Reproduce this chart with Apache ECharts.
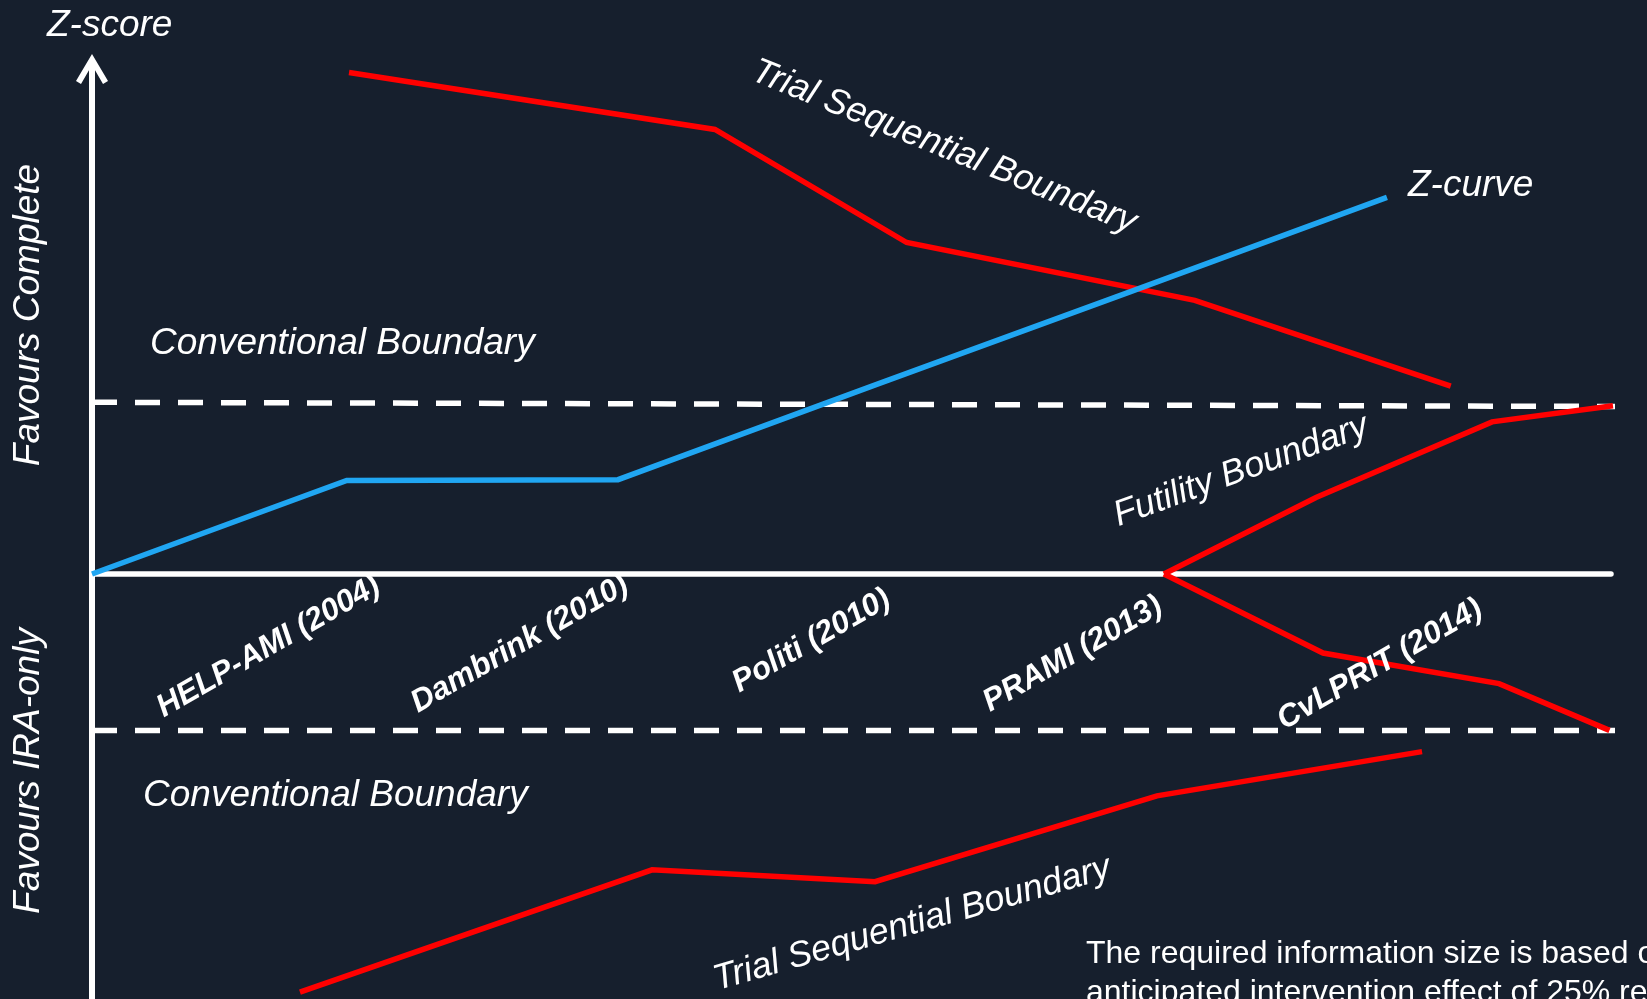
<!DOCTYPE html>
<html>
<head>
<meta charset="utf-8">
<script src="https://cdn.jsdelivr.net/npm/echarts@6/dist/echarts.min.js"></script>
<style>
  html, body { margin: 0; padding: 0; background: #161f2d; }
  #chart { width: 1647px; height: 999px; }
</style>
</head>
<body>
<div id="chart"></div>
<script>
// x: accrued information (% of required information size), y: cumulative Z-score

// Trials in order of accrual
const trialNames = ['HELP-AMI (2004)', 'Dambrink (2010)', 'Politi (2010)', 'PRAMI (2013)', 'CvLPRIT (2014)'];
const trialInfo = [16.77, 34.63, 51.48, 68.33, 85.25];

// Cumulative Z-curve, starting at the origin and stepping through each trial
const zCurveInfo = [0, 16.77, 34.63, 51.48, 68.33, 85.25];
const zCurveZ = [0, 1.10, 1.11, 2.22, 3.32, 4.43];

// Trial sequential monitoring boundary (benefit side)
const tsbUpperInfo = [16.92, 41.01, 53.63, 72.60, 89.45];
const tsbUpperZ = [5.90, 5.23, 3.90, 3.22, 2.21];

// Trial sequential monitoring boundary (harm side)
const tsbLowerInfo = [13.69, 36.87, 51.55, 70.11, 87.56];
const tsbLowerZ = [-4.92, -3.48, -3.62, -2.61, -2.09];

// Futility (inner wedge) boundaries
const futilUpperInfo = [70.57, 80.58, 92.17, 100.13];
const futilUpperZ = [0, 0.90, 1.79, 1.98];
const futilLowerInfo = [70.57, 81.04, 92.63, 99.90];
const futilLowerZ = [0, -0.93, -1.29, -1.84];

// Conventional significance boundaries
const convInfo = [0, 102.37];
const convUpperZ = [2.02, 1.97];
const convLowerZ = [-1.84, -1.84];

const pair = (xs, ys) => xs.map((x, i) => [x, ys[i]]);

const FONT = '"Liberation Sans", Arial, Helvetica, sans-serif';
const WHITE = '#ffffff';
const RED = '#ff0000';
const BLUE = '#20a6f2';

// label anchor nudges (px) for the rotated trial names
const labelNudge = [[23, -4], [0, -5], [6, 9], [22, 16], [85, 19]];

const redLine = (xs, ys) => ({
  type: 'line',
  data: pair(xs, ys),
  symbol: 'none',
  clip: false,
  z: 3,
  lineStyle: { color: RED, width: 5.5, cap: 'butt', join: 'miter' }
});

const dashedLine = (xs, ys) => ({
  type: 'line',
  data: pair(xs, ys),
  symbol: 'none',
  clip: false,
  z: 2,
  lineStyle: { color: WHITE, width: 5.5, type: [25, 18], cap: 'butt' }
});

const chart = echarts.init(document.getElementById('chart'));

const italic = (text, x, y, size, rot, align) => ({
  type: 'text',
  x: x, y: y,
  rotation: (rot || 0) * Math.PI / 180,
  z: 10,
  style: {
    text: text,
    fill: WHITE,
    fontFamily: FONT,
    fontStyle: 'italic',
    fontSize: size,
    textAlign: align || 'left',
    textVerticalAlign: 'middle'
  }
});

chart.setOption({
  backgroundColor: '#161f2d',
  animation: false,
  grid: { left: 92, top: 64, width: 1519, height: 938 },
  xAxis: {
    type: 'value', min: 0, max: 100,
    axisLine: { show: true, onZero: true, lineStyle: { color: WHITE, width: 5.5 } },
    axisTick: { show: false }, axisLabel: { show: false }, splitLine: { show: false }
  },
  yAxis: {
    type: 'value', min: -5, max: 6,
    axisLine: {
      show: true,
      symbol: ['none', 'path://M16,0 L32,27 L27,30 L16,11 L5,30 L0,27 Z'],
      symbolSize: [32, 30],
      symbolOffset: [0, -5],
      lineStyle: { color: WHITE, width: 6 }
    },
    axisTick: { show: false }, axisLabel: { show: false }, splitLine: { show: false }
  },
  series: [
    dashedLine(convInfo, convUpperZ),
    dashedLine(convInfo, convLowerZ),
    redLine(tsbUpperInfo, tsbUpperZ),
    redLine(tsbLowerInfo, tsbLowerZ),
    redLine(futilUpperInfo, futilUpperZ),
    redLine(futilLowerInfo, futilLowerZ),
    {
      type: 'line',
      data: pair(zCurveInfo, zCurveZ),
      symbol: 'none',
      clip: false,
      z: 4,
      lineStyle: { color: BLUE, width: 5.5, cap: 'butt', join: 'miter' }
    },
    {
      type: 'scatter',
      z: 6,
      symbolSize: 1,
      itemStyle: { color: 'rgba(0,0,0,0)', opacity: 1 },
      emphasis: { disabled: true },
      data: trialNames.map((name, i) => ({
        name: name,
        value: [trialInfo[i], 0],
        label: { position: [labelNudge[i][0] + 0.5, labelNudge[i][1] + 0.5] }
      })),
      label: {
        show: true,
        formatter: p => p.name,
        color: WHITE,
        fontFamily: FONT,
        fontSize: 31.5,
        fontWeight: 'bold',
        fontStyle: 'italic',
        align: 'right',
        verticalAlign: 'top',
        rotate: 30
      }
    }
  ],
  graphic: [
    italic('Z-score', 47, 26, 37),
    italic('Favours Complete', 29, 315, 37, 90, 'center'),
    italic('Favours IRA-only', 29, 771, 37, 90, 'center'),
    italic('Conventional Boundary', 150, 344, 37),
    italic('Conventional Boundary', 143, 796, 37),
    italic('Z-curve', 1408, 186, 37),
    italic('Trial Sequential Boundary', 944, 147, 36, -22, 'center'),
    italic('Trial Sequential Boundary', 912, 924, 36, 16, 'center'),
    italic('Futility Boundary', 1241, 471, 36, 20, 'center'),
    {
      type: 'text',
      x: 1086, y: 935, z: 10,
      style: {
        text: 'The required information size is based on an\nanticipated intervention effect of 25% relative risk reduction',
        fill: WHITE,
        fontFamily: FONT,
        fontSize: 32,
        lineHeight: 39,
        textAlign: 'left',
        textVerticalAlign: 'top'
      }
    }
  ]
});
</script>
</body>
</html>
